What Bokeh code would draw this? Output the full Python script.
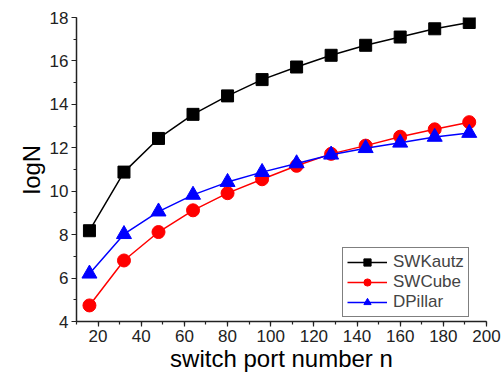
from bokeh.plotting import figure
from bokeh.models import SingleIntervalTicker, Range1d
from bokeh.embed import file_html
from bokeh.resources import INLINE

ports = [16, 32, 48, 64, 80, 96, 112, 128, 144, 160, 176, 192]
swkautz = [8.18, 10.88, 12.43, 13.54, 14.39, 15.14, 15.72, 16.26, 16.72, 17.1, 17.48, 17.77]
swcube = [4.74, 6.81, 8.12, 9.12, 9.91, 10.55, 11.17, 11.72, 12.1, 12.51, 12.85, 13.18]
dpillar = [6.2, 8.02, 9.06, 9.83, 10.42, 10.88, 11.28, 11.68, 11.98, 12.23, 12.5, 12.68]

FONT = "Liberation Sans"

p = figure(width=501, height=374, output_backend="svg", toolbar_location=None,
           x_range=Range1d(10, 200), y_range=Range1d(4, 18),
           min_border_left=76, min_border_right=15, min_border_top=17, min_border_bottom=52)

p.outline_line_color = None
p.xgrid.visible = False
p.ygrid.visible = False

p.line(ports, swkautz, color="black", line_width=1.5, legend_label="SWKautz")
p.scatter(ports, swkautz, marker="square", size=12, color="black", legend_label="SWKautz")
p.line(ports, swcube, color="red", line_width=1.5, legend_label="SWCube")
p.scatter(ports, swcube, marker="circle", size=13, color="red", legend_label="SWCube")
p.line(ports, dpillar, color="blue", line_width=1.5, legend_label="DPillar")
p.scatter(ports, dpillar, marker="triangle", size=15, color="blue", legend_label="DPillar")

p.xaxis.ticker = SingleIntervalTicker(interval=20, num_minor_ticks=2)
p.yaxis.ticker = SingleIntervalTicker(interval=2, num_minor_ticks=2)

for ax in (p.xaxis[0], p.yaxis[0]):
    ax.axis_line_width = 1.5
    ax.axis_line_color = "#222222"
    ax.major_tick_line_color = "#222222"
    ax.minor_tick_line_color = "#222222"
    ax.major_tick_line_width = 1.2
    ax.minor_tick_line_width = 1.2
    ax.major_tick_in = 0
    ax.major_tick_out = 5
    ax.minor_tick_in = 0
    ax.minor_tick_out = 3
    ax.major_label_text_font = FONT
    ax.major_label_text_font_size = "17px"
    ax.major_label_text_color = "#222222"
    ax.major_label_standoff = 3
    ax.axis_label_text_font = FONT
    ax.axis_label_text_font_style = "normal"
    ax.axis_label_text_font_size = "24px"
    ax.axis_label_text_color = "black"
    ax.axis_label_standoff = 2

p.xaxis.axis_label = "switch port number n"
p.yaxis.axis_label = "logN"
p.xaxis.axis_label_standoff = 0
p.xaxis.major_label_text_line_height = 1.0
p.xaxis.axis_label_text_line_height = 1.0

lg = p.legend[0]
lg.location = (266, 4)
lg.border_line_color = "black"
lg.border_line_width = 1
lg.background_fill_color = "white"
lg.background_fill_alpha = 1
lg.label_text_font = FONT
lg.label_text_font_size = "17px"
lg.label_text_line_height = 1.0
lg.label_standoff = 6
lg.glyph_width = 40
lg.glyph_height = 18
lg.label_height = 18
lg.spacing = 0
lg.padding = 4
lg.margin = 0

open("out.html", "w").write(file_html(p, INLINE))
